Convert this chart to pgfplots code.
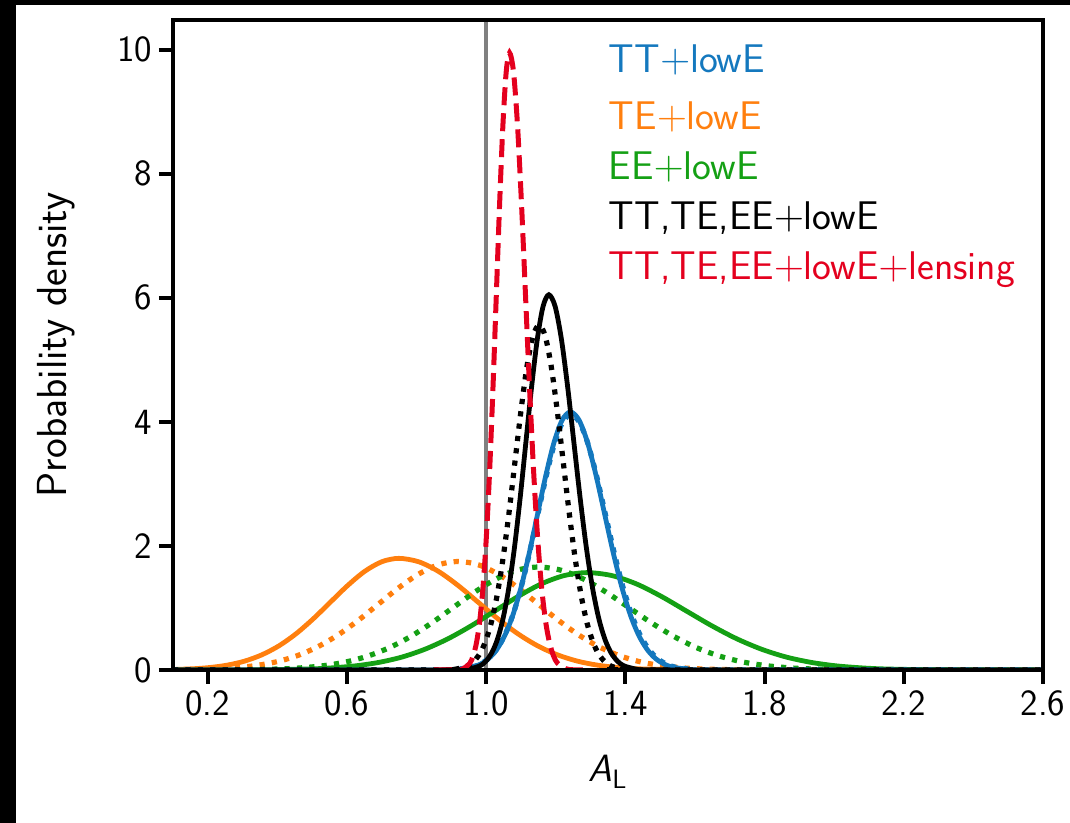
\documentclass[border=0pt]{standalone}
\usepackage{pgfplots}
\pgfplotsset{compat=1.18}
\renewcommand{\familydefault}{\sfdefault}
\definecolor{cblue}{RGB}{20,120,190}
\definecolor{corange}{RGB}{255,127,14}
\definecolor{cgreen}{RGB}{20,160,20}
\definecolor{cred}{RGB}{228,0,30}
\definecolor{cgray}{RGB}{128,128,128}
\begin{document}
\begin{tikzpicture}
\begin{axis}[
  scale only axis, width=435pt, height=325pt,
  at={(0,0)}, anchor=south west,
  xmin=0.1, xmax=2.6, ymin=0, ymax=10.48,
  xtick={0.2,0.6,1.0,1.4,1.8,2.2,2.6},
  xticklabels={0.2,0.6,1.0,1.4,1.8,2.2,2.6},
  ytick={0,2,4,6,8,10},
  yticklabels={0,2,4,6,8,10},
  tick align=outside, major tick length=7pt,
  xtick pos=bottom, ytick pos=left,
  tick style={line width=2pt, black},
  axis line style={line width=2.4pt},
  axis on top,
  ticklabel style={font=\fontsize{18.5}{21}\selectfont},
  /pgf/number format/assume math mode=true,
  xlabel={\textit{A}\textsubscript{L}},
  ylabel={Probability density},
  xlabel style={font=\fontsize{19}{22}\selectfont, at={(axis description cs:0.5,-0.1723)}, anchor=base},
  ylabel style={font=\fontsize{21}{24}\selectfont, at={(axis description cs:-0.1345,0.5)}, anchor=center},
  clip=true,
]
% gray reference line
\addplot[cgray, line width=2pt] coordinates {(1.0,0) (1.0,10.48)};
% orange solid TE+lowE
\addplot[corange, line width=2.4pt, smooth] coordinates {
(0.1,0.008) (0.158,0.020) (0.2073,0.041) (0.2565,0.079) (0.3058,0.143) (0.355,0.244) (0.4043,0.389) (0.4535,0.584) (0.5028,0.824) (0.552,1.092) (0.6013,1.359) (0.6505,1.589) (0.6998,1.745) (0.749,1.8)
(0.806,1.745) (0.863,1.589) (0.92,1.359) (0.977,1.092) (1.034,0.824) (1.091,0.584) (1.148,0.389) (1.205,0.244) (1.262,0.143) (1.319,0.079) (1.376,0.041) (1.433,0.020) (1.547,0.004) (1.661,0.0006) (2.6,0)};
% orange dotted
\addplot[corange, line width=2.6pt, dash pattern=on 2.6pt off 3.6pt, smooth] coordinates {
(0.1,0.003) (0.115,0.004) (0.23,0.019) (0.2875,0.040) (0.345,0.077) (0.4025,0.139) (0.46,0.237) (0.5175,0.379) (0.575,0.568) (0.6325,0.801) (0.69,1.061) (0.7475,1.321) (0.805,1.544) (0.8625,1.696) (0.92,1.75)
(0.9775,1.696) (1.035,1.544) (1.0925,1.321) (1.15,1.061) (1.2075,0.801) (1.265,0.568) (1.3225,0.379) (1.38,0.237) (1.4375,0.139) (1.495,0.077) (1.5525,0.040) (1.61,0.019) (1.725,0.004) (1.84,0.0006) (2.6,0)};
% green solid EE+lowE
\addplot[cgreen, line width=2.4pt, smooth] coordinates {
(0.1,0) (0.23,0.0005) (0.3625,0.003) (0.495,0.017) (0.5613,0.036) (0.6275,0.069) (0.6938,0.125) (0.76,0.212) (0.8263,0.340) (0.8925,0.510) (0.9588,0.719) (1.025,0.952) (1.0913,1.185) (1.1575,1.386) (1.2238,1.522) (1.29,1.57)
(1.3613,1.522) (1.4325,1.386) (1.5038,1.185) (1.575,0.952) (1.6463,0.719) (1.7175,0.510) (1.7888,0.340) (1.86,0.212) (1.9313,0.125) (2.0025,0.069) (2.0738,0.036) (2.145,0.017) (2.2875,0.003) (2.43,0.0005) (2.6,0)};
% green dotted
\addplot[cgreen, line width=2.6pt, dash pattern=on 2.6pt off 3.6pt, smooth] coordinates {
(0.1,0) (0.17,0.0006) (0.2925,0.004) (0.415,0.018) (0.4763,0.038) (0.5375,0.073) (0.5988,0.132) (0.66,0.225) (0.7213,0.359) (0.7825,0.539) (0.8438,0.760) (0.905,1.007) (0.9663,1.253) (1.0275,1.465) (1.0888,1.609) (1.15,1.66)
(1.215,1.609) (1.28,1.465) (1.345,1.253) (1.41,1.007) (1.475,0.760) (1.54,0.539) (1.605,0.359) (1.67,0.225) (1.735,0.132) (1.80,0.073) (1.865,0.038) (1.93,0.018) (2.06,0.004) (2.19,0.0006) (2.6,0)};
% blue solid TT+lowE
\addplot[cblue, line width=2.4pt, smooth] coordinates {
(0.1,0) (0.866,0.001) (0.913,0.009) (0.96,0.046) (0.9835,0.095) (1.007,0.183) (1.0305,0.331) (1.054,0.563) (1.0775,0.900) (1.101,1.351) (1.1245,1.904) (1.148,2.523) (1.1715,3.140) (1.195,3.671) (1.2185,4.032) (1.242,4.16)
(1.2665,4.032) (1.291,3.671) (1.3155,3.140) (1.34,2.523) (1.3645,1.904) (1.389,1.351) (1.4135,0.900) (1.438,0.563) (1.4625,0.331) (1.487,0.183) (1.5115,0.095) (1.536,0.046) (1.585,0.009) (1.634,0.001) (2.6,0)};
% blue dotted
\addplot[cblue, line width=2.6pt, dash pattern=on 2.6pt off 3.6pt, smooth] coordinates {
(0.1,0) (0.863,0.001) (0.9105,0.009) (0.958,0.046) (0.9818,0.094) (1.0055,0.181) (1.0293,0.328) (1.053,0.557) (1.0768,0.891) (1.1005,1.338) (1.1243,1.886) (1.148,2.499) (1.1718,3.110) (1.1955,3.636) (1.2193,3.993) (1.243,4.12)
(1.268,3.993) (1.293,3.636) (1.318,3.110) (1.343,2.499) (1.368,1.886) (1.393,1.338) (1.418,0.891) (1.443,0.557) (1.468,0.328) (1.493,0.181) (1.518,0.094) (1.543,0.046) (1.593,0.009) (1.643,0.001) (2.6,0)};
% black solid TT,TE,EE+lowE
\addplot[black, line width=2.4pt, smooth] coordinates {
(0.1,0) (0.916,0.002) (0.949,0.013) (0.982,0.067) (0.9985,0.138) (1.015,0.266) (1.0315,0.482) (1.048,0.819) (1.0645,1.309) (1.081,1.964) (1.0975,2.770) (1.114,3.669) (1.1305,4.567) (1.147,5.339) (1.1635,5.864) (1.18,6.05)
(1.198,5.864) (1.216,5.339) (1.234,4.567) (1.252,3.669) (1.27,2.770) (1.288,1.964) (1.306,1.309) (1.324,0.819) (1.342,0.482) (1.36,0.266) (1.378,0.138) (1.396,0.067) (1.432,0.013) (1.468,0.002) (2.6,0)};
% black dotted
\addplot[black, line width=2.6pt, dash pattern=on 2.6pt off 3.6pt, smooth] coordinates {
(0.1,0) (0.876,0.002) (0.9105,0.012) (0.945,0.062) (0.962,0.127) (0.9795,0.244) (0.9968,0.443) (1.014,0.752) (1.0313,1.203) (1.0485,1.805) (1.0658,2.545) (1.083,3.372) (1.1003,4.197) (1.1175,4.907) (1.1348,5.389) (1.152,5.56)
(1.1693,5.389) (1.1865,4.907) (1.2038,4.197) (1.221,3.372) (1.2383,2.545) (1.2555,1.805) (1.2728,1.203) (1.29,0.752) (1.3073,0.443) (1.3245,0.244) (1.342,0.127) (1.359,0.062) (1.3935,0.012) (1.428,0.002) (2.6,0)};
% red dashed TT,TE,EE+lowE+lensing
\addplot[cred, line width=2.5pt, dash pattern=on 9pt off 4pt, smooth] coordinates {
(0.85,0) (0.915,0.003) (0.934,0.022) (0.953,0.110) (0.9625,0.227) (0.972,0.437) (0.9815,0.792) (0.991,1.346) (1.0005,2.152) (1.010,3.231) (1.0195,4.555) (1.029,6.035) (1.0385,7.510) (1.048,8.781) (1.0575,9.644) (1.067,9.95)
(1.0785,9.644) (1.090,8.781) (1.1015,7.510) (1.113,6.035) (1.1245,4.555) (1.136,3.231) (1.1475,2.152) (1.159,1.346) (1.1705,0.792) (1.182,0.437) (1.1935,0.227) (1.205,0.110) (1.228,0.022) (1.251,0.003) (1.3,0)};
% legend texts
\node[anchor=base west, text=cblue, font=\fontsize{20}{24}\selectfont] at (rel axis cs:0.493,0.9195) {TT$+$lowE};
\node[anchor=base west, text=corange, font=\fontsize{20}{24}\selectfont] at (rel axis cs:0.493,0.8318) {TE$+$lowE};
\node[anchor=base west, text=cgreen, font=\fontsize{20}{24}\selectfont] at (rel axis cs:0.493,0.755) {EE$+$lowE};
\node[anchor=base west, text=black, font=\fontsize{20}{24}\selectfont] at (rel axis cs:0.493,0.678) {TT,TE,EE$+$lowE};
\node[anchor=base west, text=cred, font=\fontsize{20}{24}\selectfont] at (rel axis cs:0.493,0.601) {TT,TE,EE$+$lowE$+$lensing};
\end{axis}
\pgfresetboundingbox
\path[use as bounding box] (-86.5pt,-76.5pt) rectangle (448.5pt,335pt);
\fill[black] (-86.5pt,-76.5pt) rectangle (-78.5pt,335pt);
\fill[black] (-86.5pt,332.5pt) rectangle (448.5pt,335pt);
\end{tikzpicture}
\end{document}
